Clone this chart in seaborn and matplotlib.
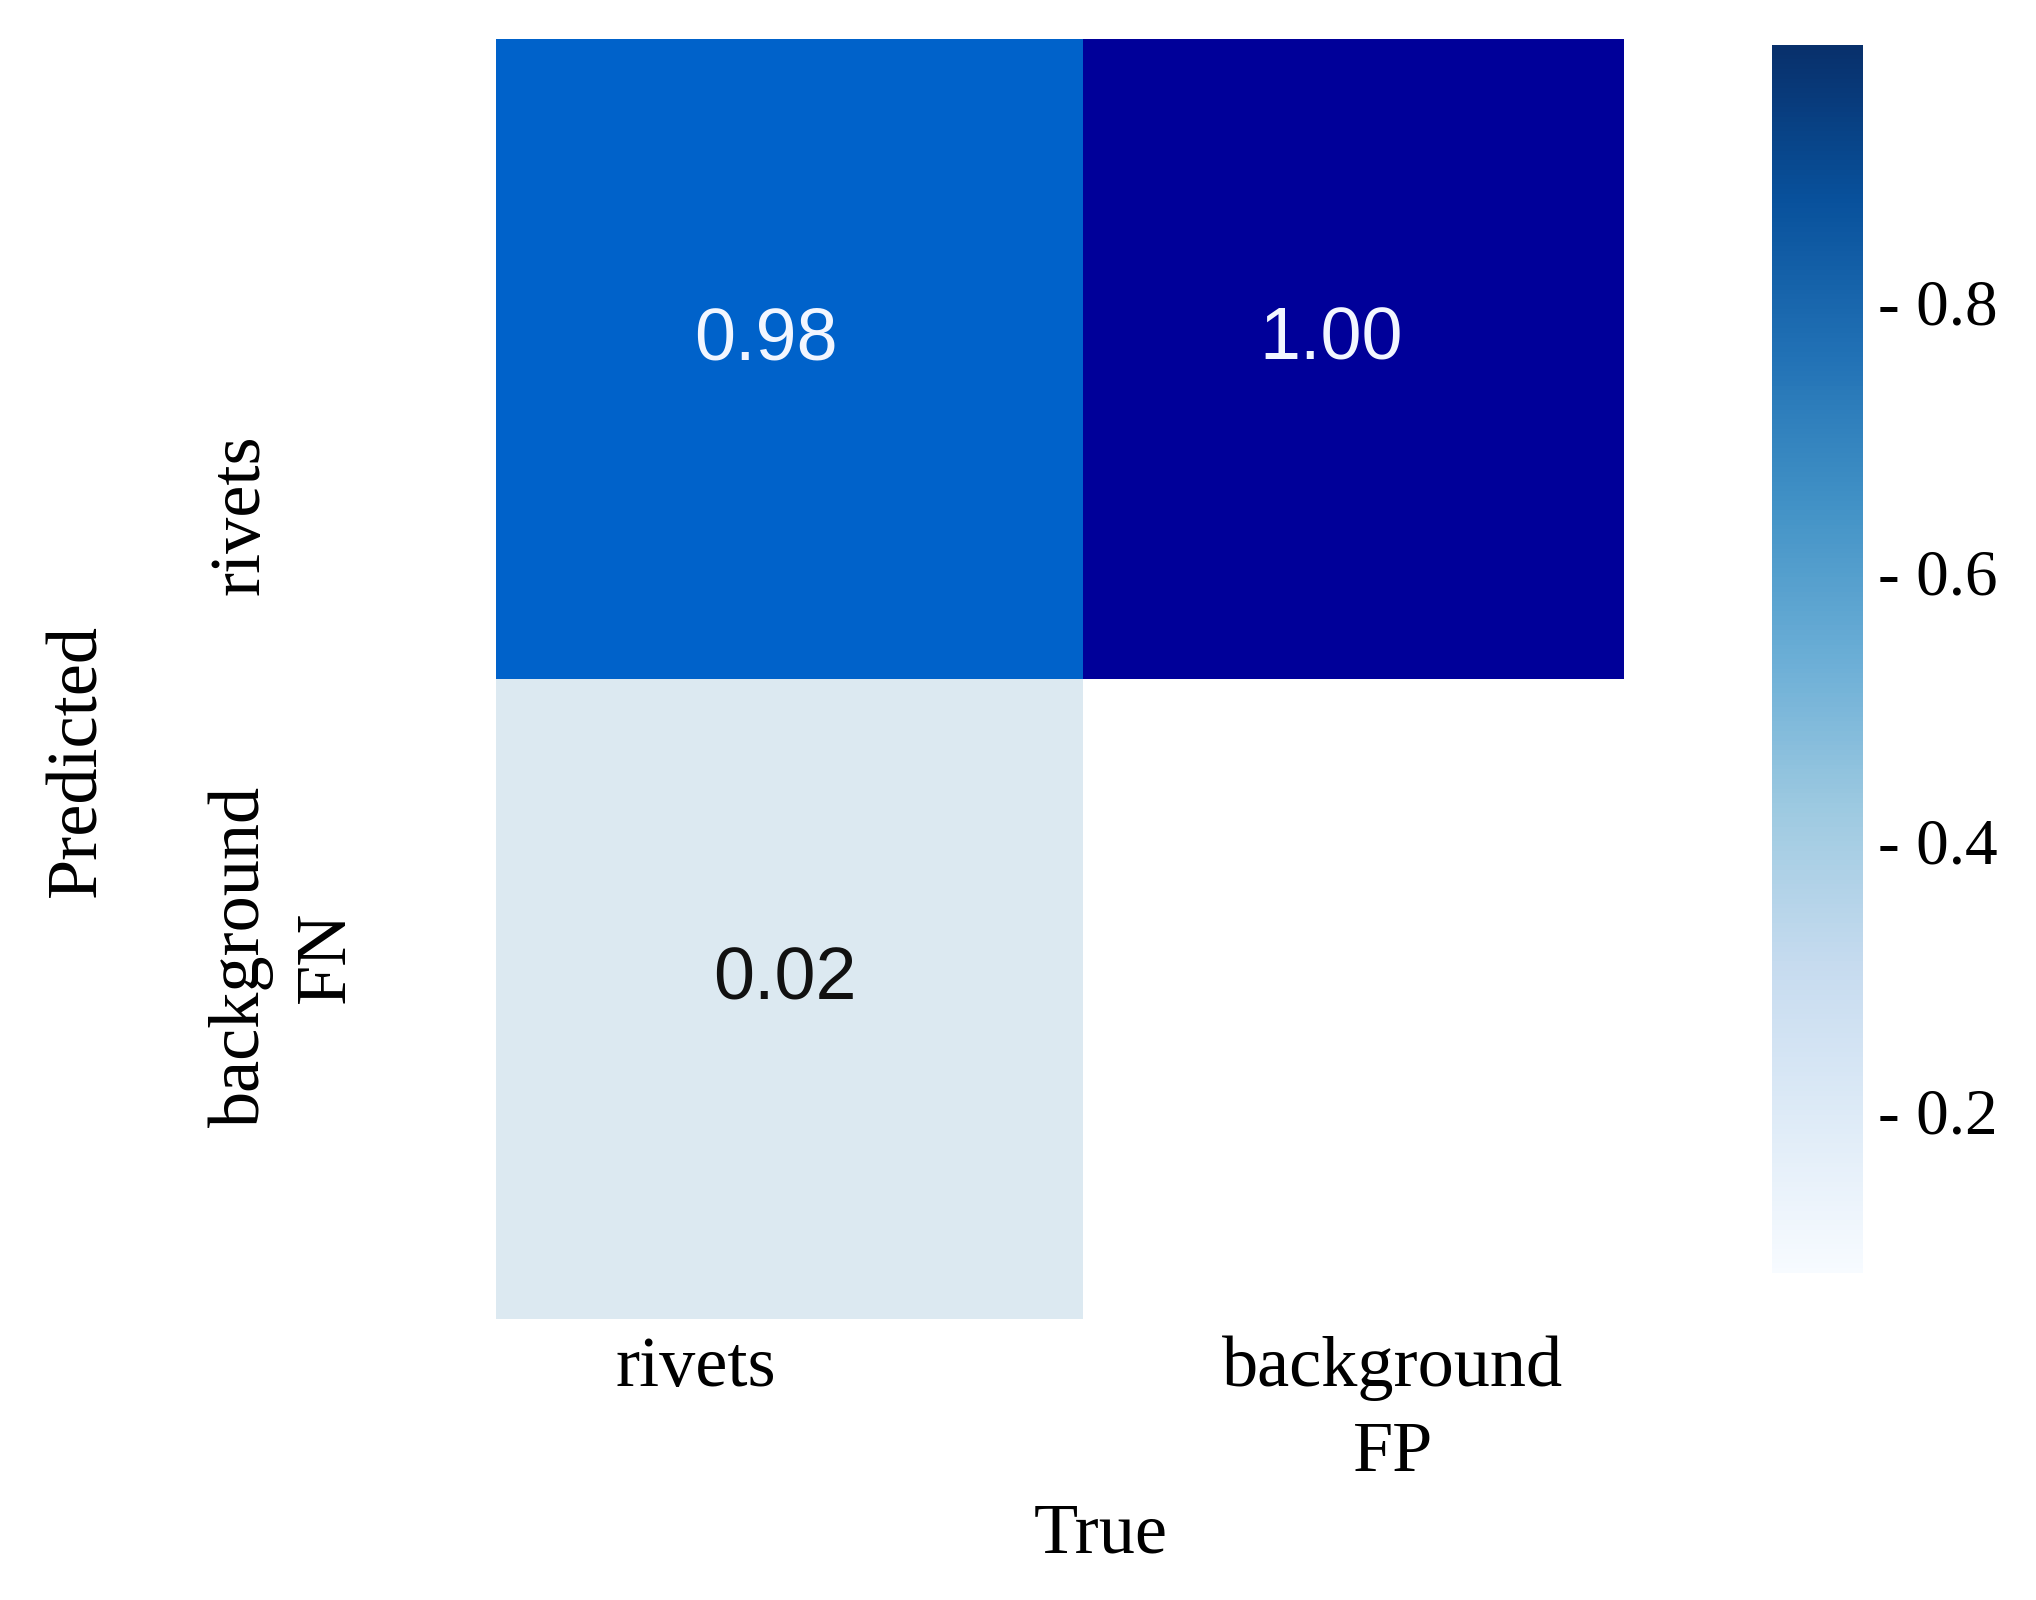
import numpy as np
import pandas as pd
import matplotlib
matplotlib.use("Agg")
import matplotlib.pyplot as plt
from matplotlib.colors import LinearSegmentedColormap, Normalize
from matplotlib.cm import ScalarMappable
from matplotlib.ticker import FuncFormatter
import seaborn as sns

# ---- data ----
true_labels = ["rivets", "background\nFP"]
pred_labels = ["rivets", "background\nFN"]
row_rivets = [0.98, 1.00]
row_background = [0.02, np.nan]
cbar_ticks = [0.2, 0.4, 0.6, 0.8]
cbar_range = [0.08, 0.99]

df = pd.DataFrame([row_rivets, row_background], index=pred_labels, columns=true_labels)

serif = ["Liberation Serif", "DejaVu Serif"]
sans = ["Liberation Sans", "DejaVu Sans"]
plt.rcParams["font.family"] = serif

fig = plt.figure(figsize=(20.36, 16), dpi=100)
ax = fig.add_axes([496 / 2036, 1 - 1319 / 1600, 1128 / 2036, 1280 / 1600])
cax = fig.add_axes([1772 / 2036, 1 - 1273 / 1600, 91 / 2036, 1228 / 1600])

vmin, vmax = 0.02, 1.00
cell_cmap = LinearSegmentedColormap.from_list(
    "cells",
    [(0.0, "#DCE9F1"), ((0.98 - vmin) / (vmax - vmin), "#0066CC"), (1.0, "#000099")],
)

sns.heatmap(
    df, ax=ax, annot=True, fmt=".2f", cmap=cell_cmap, vmin=vmin, vmax=vmax,
    cbar=False, square=False,
    annot_kws={"fontsize": 53, "family": sans},
)

# first column is drawn slightly wider than the second, as in the reference
split = 0.52
def fwd(x):
    x = np.asarray(x, dtype=float)
    return np.where(x <= 1, x * split, split + (x - 1) * (1 - split))
def inv(y):
    y = np.asarray(y, dtype=float)
    return np.where(y <= split, y / split, 1 + (y - split) / (1 - split))
ax.set_xscale("function", functions=(fwd, inv))
ax.set_xlim(0, 2)

offsets = [(-0.04, -0.03), (-0.04, -0.03), (-0.007, -0.03)]
for t, (dx, dy) in zip(ax.texts, offsets):
    x, y = t.get_position()
    t.set_position((x + dx, y + dy))
    r, g, b, *_ = matplotlib.colors.to_rgba(t.get_color())
    t.set_color("#F2F6FF" if r > 0.5 else "#111111")

# tick labels
ax.set_xticks([0.34, 1.573])
ax.set_xticklabels(true_labels, fontsize=52, family=serif, multialignment="center",
                   linespacing=1.4)
ax.set_yticks([0.744, 1.434])
ax.set_yticklabels(pred_labels, fontsize=52, family=serif, rotation=90,
                   va="center", ha="left", multialignment="center", linespacing=1.4)
ax.xaxis.set_minor_locator(matplotlib.ticker.NullLocator())
ax.tick_params(axis="x", which="both", length=0, pad=12)
ax.tick_params(axis="y", length=0, pad=207)

ax.set_xlabel("True", fontsize=52, family=serif)
ax.set_ylabel("Predicted", fontsize=52, family=serif)
ax.xaxis.set_label_coords(0.536, -0.143)
ax.yaxis.set_label_coords(-0.342, 0.436)

# colorbar
sm = ScalarMappable(norm=Normalize(*cbar_range), cmap="Blues")
cb = fig.colorbar(sm, cax=cax, ticks=cbar_ticks)
cb.outline.set_visible(False)
cb.ax.yaxis.set_major_formatter(FuncFormatter(lambda v, p: f"- {v:.1f}"))
cb.ax.tick_params(length=0, pad=11, labelsize=47)
for lab in cb.ax.get_yticklabels():
    lab.set_family(serif)

fig.savefig("out.png", dpi=100, facecolor="white")
